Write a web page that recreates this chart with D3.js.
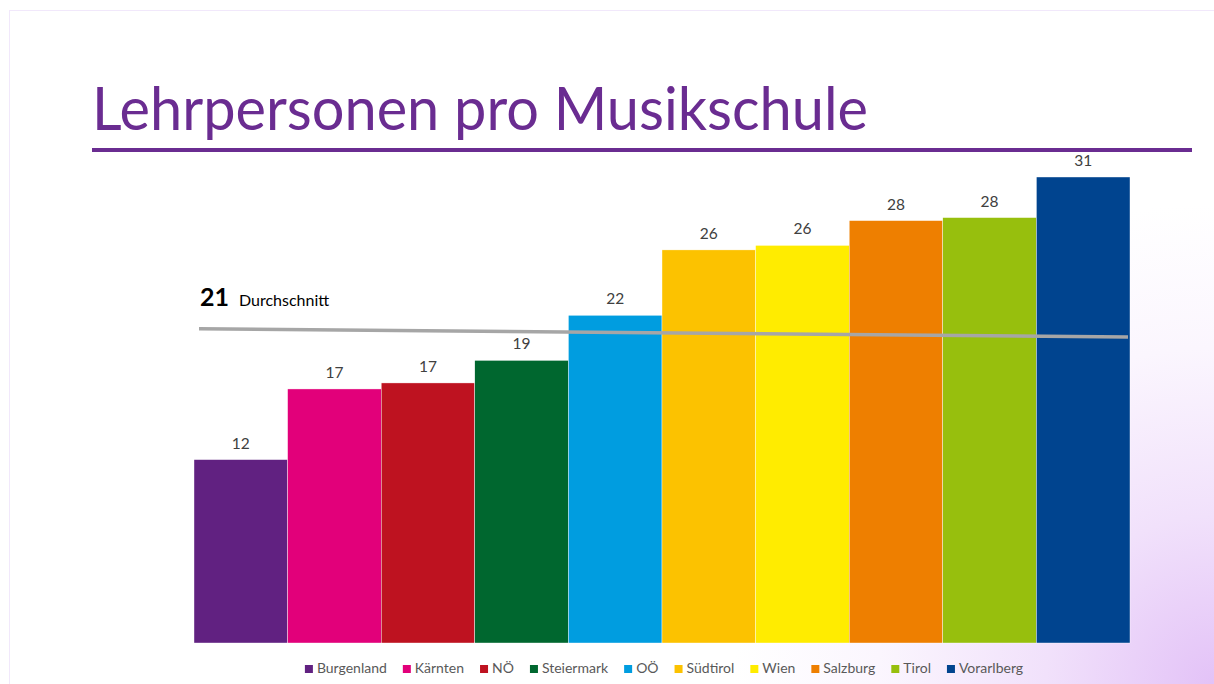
<!DOCTYPE html>
<html>
<head>
<meta charset="utf-8">
<script src="https://cdn.jsdelivr.net/npm/d3@7"></script>
<style>
  html, body { margin: 0; padding: 0; background: #fff; }
  svg { display: block; font-family: Lato, "Open Sans", sans-serif; }
</style>
</head>
<body>
<div id="chart"></div>
<script>
// data
const regions = ["Burgenland", "Kärnten", "NÖ", "Steiermark", "OÖ", "Südtirol", "Wien", "Salzburg", "Tirol", "Vorarlberg"];
const teachers = [12.2, 16.9, 17.3, 18.8, 21.8, 26.15, 26.45, 28.1, 28.3, 31.0];
const colors = ["#612181", "#e2007a", "#be1220", "#00672f", "#009de0", "#fcc200", "#ffec00", "#ee7f00", "#97bf0d", "#00448f"];
const average = 21;
const avgLine = [20.9, 20.36]; // drawn line is slightly tilted in the original

const width = 1214, height = 684;

const svg = d3.select("#chart")
    .append("svg")
    .attr("width", width)
    .attr("height", height);

// slide background with purple glow bottom right
const defs = svg.append("defs");
const grad = defs.append("radialGradient")
    .attr("id", "glow")
    .attr("gradientUnits", "userSpaceOnUse")
    .attr("cx", 1214).attr("cy", 684).attr("r", 480);
grad.append("stop").attr("offset", 0).attr("stop-color", "#e3c2f7");
grad.append("stop").attr("offset", 0.35).attr("stop-color", "#f1e1fb");
grad.append("stop").attr("offset", 0.7).attr("stop-color", "#fbf6fe");
grad.append("stop").attr("offset", 1).attr("stop-color", "#ffffff");

svg.append("rect").attr("width", width).attr("height", height).attr("fill", "#fff");
svg.append("rect")
    .attr("x", 9.5).attr("y", 10.5)
    .attr("width", width - 9).attr("height", height - 10)
    .attr("fill", "url(#glow)")
    .attr("stroke", "#f1e8fb");

// title
svg.append("text")
    .attr("x", 92).attr("y", 130)
    .attr("fill", "#6a2c91")
    .attr("font-size", 60)
    .attr("textLength", 776)
    .attr("lengthAdjust", "spacingAndGlyphs")
    .text("Lehrpersonen pro Musikschule");

svg.append("rect")
    .attr("x", 92).attr("y", 148)
    .attr("width", 1100).attr("height", 4)
    .attr("fill", "#6a2c91");

// scales
const x = d3.scaleBand()
    .domain(regions)
    .range([194, 1130])
    .padding(0);

const y = d3.scaleLinear()
    .domain([0, 31])
    .range([643, 177]);

const data = regions.map((r, i) => ({ region: r, value: teachers[i], color: colors[i] }));

// bars
svg.append("g")
    .selectAll("rect")
    .data(data)
    .enter()
    .append("rect")
    .attr("x", d => x(d.region))
    .attr("y", d => y(d.value))
    .attr("width", x.bandwidth())
    .attr("height", d => y(0) - y(d.value))
    .attr("fill", d => d.color)
    .attr("stroke", "#fff")
    .attr("stroke-width", 0.4);

// value labels
svg.append("g")
    .selectAll("text")
    .data(data)
    .enter()
    .append("text")
    .attr("x", d => x(d.region) + x.bandwidth() / 2)
    .attr("y", d => y(d.value) - 11)
    .attr("text-anchor", "middle")
    .attr("font-size", 15.5)
    .attr("fill", "#404040")
    .text(d => d3.format(".0f")(d.value));

// average line
svg.append("line")
    .attr("x1", x.range()[0] + 5)
    .attr("x2", x.range()[1] - 2)
    .attr("y1", y(avgLine[0]))
    .attr("y2", y(avgLine[1]))
    .attr("stroke", "#a6a6a6")
    .attr("stroke-width", 3.5);

const avgLabel = svg.append("text")
    .attr("x", 200).attr("y", 306)
    .attr("fill", "#000");
avgLabel.append("tspan")
    .attr("font-size", 25)
    .attr("font-weight", "bold")
    .text(average);
avgLabel.append("tspan")
    .attr("dx", 10)
    .attr("font-size", 16)
    .text("Durchschnitt");

// legend
const legend = svg.append("g").attr("transform", "translate(0,673)");
const items = legend.selectAll("g")
    .data(data)
    .enter()
    .append("g");
items.append("rect")
    .attr("y", -8)
    .attr("width", 8).attr("height", 8)
    .attr("fill", d => d.color);
items.append("text")
    .attr("x", 12)
    .attr("y", 0)
    .attr("font-size", 14)
    .attr("fill", "#595959")
    .text(d => d.region);

// lay out legend items centred under the plot
const gap = 16;
let offsets = [], cursor = 0;
items.each(function () {
    offsets.push(cursor);
    const w = 12 + d3.select(this).select("text").node().getComputedTextLength();
    cursor += w + gap;
});
const total = cursor - gap;
const startX = (x.range()[0] + x.range()[1]) / 2 - total / 2 + 2;
items.attr("transform", (d, i) => `translate(${startX + offsets[i]},0)`);
</script>
</body>
</html>
